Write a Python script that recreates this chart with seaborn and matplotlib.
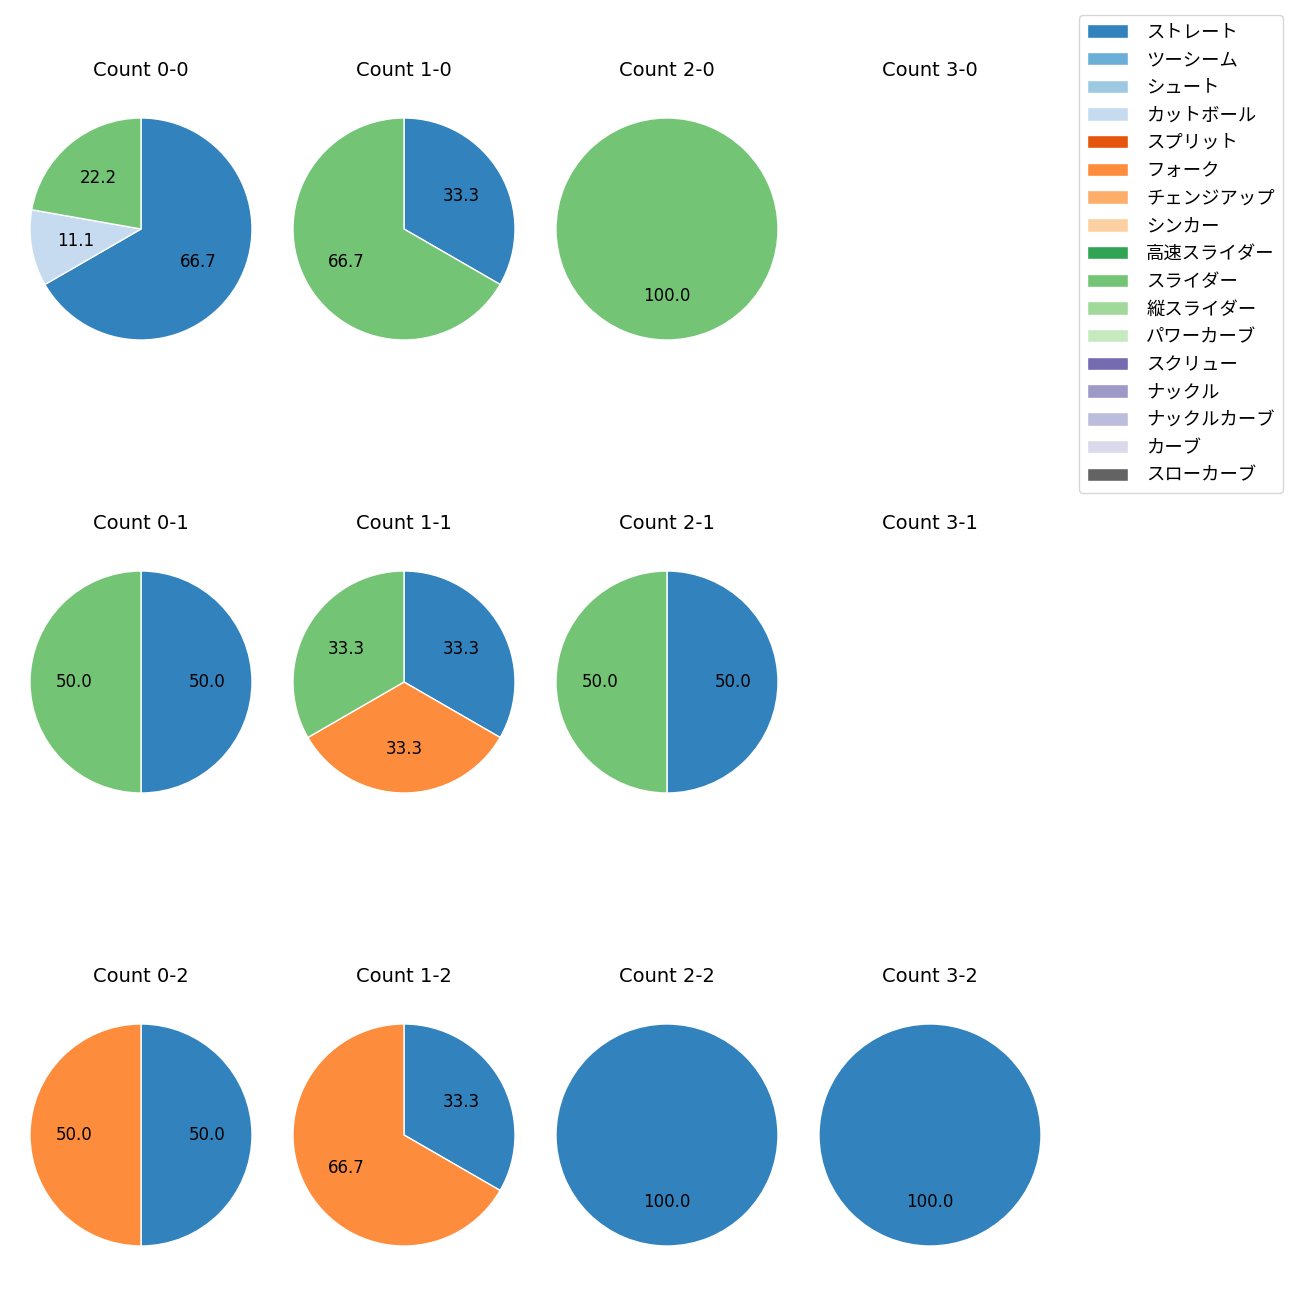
import numpy as np
import seaborn as sns
import matplotlib.pyplot as plt
from matplotlib.patches import Patch

sns.set_theme(style="white", rc={"text.color": "black", "legend.edgecolor": "0.8"})
plt.rcParams['font.family'] = ['DejaVu Sans', 'Noto Sans CJK JP']

pitch_types = ["ストレート", "ツーシーム", "シュート", "カットボール", "スプリット", "フォーク",
               "チェンジアップ", "シンカー", "高速スライダー", "スライダー", "縦スライダー",
               "パワーカーブ", "スクリュー", "ナックル", "ナックルカーブ", "カーブ", "スローカーブ"]

balls = [0, 1, 2, 3]
strikes = [0, 1, 2]

# pitch counts per ball-strike count, in legend order
counts = {
    "0-0": {"ストレート": 6, "カットボール": 1, "スライダー": 2},
    "1-0": {"ストレート": 1, "スライダー": 2},
    "2-0": {"スライダー": 1},
    "3-0": {},
    "0-1": {"ストレート": 1, "スライダー": 1},
    "1-1": {"ストレート": 1, "フォーク": 1, "スライダー": 1},
    "2-1": {"ストレート": 1, "スライダー": 1},
    "3-1": {},
    "0-2": {"ストレート": 1, "フォーク": 1},
    "1-2": {"ストレート": 1, "フォーク": 2},
    "2-2": {"ストレート": 1},
    "3-2": {"ストレート": 1},
}

palette = sns.color_palette("tab20c", len(pitch_types))
color_map = dict(zip(pitch_types, palette))

W = H = 1300
fig = plt.figure(figsize=(13, 13), dpi=100)

# square pie boxes (pie limits are +-1.25, so box = 2.5 * radius)
box = 2.5 * 111
for i, s in enumerate(strikes):
    for j, b in enumerate(balls):
        cx = 141 + 263 * j
        cy = 229 + 453 * i
        ax = fig.add_axes([(cx - box / 2) / W, 1 - (cy + box / 2) / H, box / W, box / H])
        key = f"{b}-{s}"
        data = counts[key]
        ax.set_title(f"Count {key}", fontsize=14, pad=10)
        if data:
            labels = [p for p in pitch_types if p in data]
            vals = [data[p] for p in labels]
            ax.pie(vals, colors=[color_map[p] for p in labels], startangle=90,
                   counterclock=False, autopct="%.1f", pctdistance=0.6,
                   textprops={"fontsize": 12})
            ax.set_aspect("equal")
        ax.axis("off")

handles = [Patch(facecolor=color_map[p], label=p) for p in pitch_types]
fig.legend(handles=handles, loc="upper right", bbox_to_anchor=(1283 / W, 1 - 15 / H),
           borderaxespad=0, fontsize=13.2, frameon=True, labelspacing=0.53,
           handlelength=2.2, handleheight=0.75, handletextpad=1.0, borderpad=0.45)

plt.savefig("out.png", dpi=100)
plt.close()
